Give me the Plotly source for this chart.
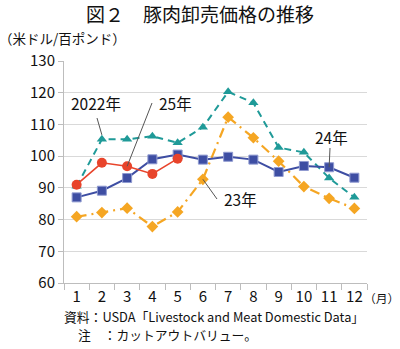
import plotly.graph_objects as go

months = list(range(1, 13))
month_labels = [str(m) for m in months]
y2022 = [90.5, 105.3, 105.3, 106.3, 104.2, 109.1, 120.3, 116.8, 102.7, 101.2, 93.1, 87.0]
y2023 = [80.9, 82.2, 83.6, 77.8, 82.4, 92.7, 112.3, 105.8, 98.4, 90.4, 86.7, 83.5]
y2024 = [87.0, 89.1, 93.1, 99.0, 100.5, 98.9, 99.8, 98.9, 95.0, 96.9, 96.5, 93.2]
y2025 = [91.0, 97.9, 96.8, 94.4, 99.2]
y_ticks = [60, 70, 80, 90, 100, 110, 120, 130]

FONT = "Noto Sans CJK JP, Noto Sans, sans-serif"

fig = go.Figure()
fig.add_trace(go.Scatter(x=months, y=y2022, mode="lines+markers", name="2022年",
                         line=dict(color="#1f9a98", width=2, dash="7px,5px"),
                         marker=dict(symbol="triangle-up", size=9, color="#1f9a98")))
fig.add_trace(go.Scatter(x=months, y=y2023, mode="lines+markers", name="23年",
                         line=dict(color="#f5a623", width=2.2, dash="10px,5px,2px,5px"),
                         marker=dict(symbol="diamond", size=9, color="#f5a623")))
fig.add_trace(go.Scatter(x=months, y=y2024, mode="lines+markers", name="24年",
                         line=dict(color="#3e4ea3", width=2),
                         marker=dict(symbol="square", size=9, color="#3e4ea3",
                                     line=dict(color="#8f9ad0", width=1))))
fig.add_trace(go.Scatter(x=months[:len(y2025)], y=y2025, mode="lines+markers", name="25年",
                         line=dict(color="#e8442b", width=1.6),
                         marker=dict(symbol="circle", size=10, color="#e8442b")))

fig.update_layout(
    width=400, height=349,
    margin=dict(l=64, r=33, t=61, b=66),
    paper_bgcolor="white", plot_bgcolor="white",
    showlegend=False,
    font=dict(family=FONT, size=14, color="#111"),
    xaxis=dict(range=[0.5, 12.5], tickvals=months, ticktext=month_labels,
               showgrid=False, showline=True, linecolor="#bdbdbd", linewidth=1,
               ticks="", tickfont=dict(size=15, color="#111"),
               minor=dict(tick0=0.5, dtick=1, ticks="outside", ticklen=6,
                          tickcolor="#bdbdbd", showgrid=False),
               fixedrange=True, zeroline=False),
    yaxis=dict(range=[60, 130], tickvals=y_ticks, showgrid=True, gridcolor="#d9d9d9",
               gridwidth=1, showline=True, linecolor="#bdbdbd", ticks="outside",
               ticklen=5, tickcolor="#bdbdbd", tickfont=dict(size=15, color="#111"),
               zeroline=False, fixedrange=True),
)


def pa(text, px, py, size, xanchor="left", color="#111"):
    fig.add_annotation(text=text, x=(px - 64) / 303, y=(283 - py) / 222,
                       xref="paper", yref="paper", showarrow=False,
                       xanchor=xanchor, yanchor="middle",
                       font=dict(family=FONT, size=size, color=color))


pa("図２　豚肉卸売価格の推移", 200, 14, 19, xanchor="center")
pa("（米ドル/百ポンド）", -3, 38, 13.5)
pa("（月）", 362, 297, 11.8)
pa("資料：USDA「Livestock and Meat Domestic Data」", 62, 316, 12.8)
pa("注　：カットアウトバリュー。", 76, 334, 12.8)


def dx(m):
    return (m - 0.5) / 12


def dy(v):
    return (v - 60) / 70


def leader(x0, y0, x1, y1):
    fig.add_shape(type="line", xref="paper", yref="paper",
                  x0=(x0 - 64) / 303, y0=(283 - y0) / 222, x1=x1, y1=y1,
                  line=dict(color="#555", width=1))


pa("2022年", 69, 103, 15.5)
leader(97, 118, dx(2), dy(y2022[1]) + 0.02)
pa("25年", 157, 103, 15.5)
leader(152, 103, dx(3), dy(y2025[2]))
pa("23年", 222, 199, 15.5)
leader(217, 199, dx(6), dy(y2023[5]))
pa("24年", 313, 137, 15.5)
leader(330, 148, dx(11), dy(y2024[10]))

fig.write_html("out.html")
